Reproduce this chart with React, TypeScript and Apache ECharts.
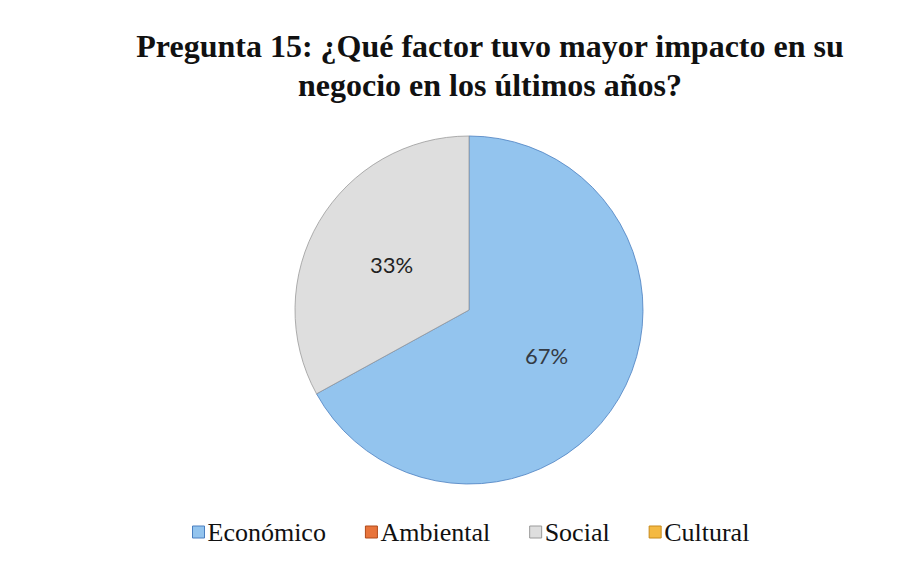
import React, { useEffect, useRef } from "react";
import * as echarts from "echarts";

const titleLines = ["Pregunta 15: ¿Qué factor tuvo mayor impacto en su", "negocio en los últimos años?"];
const categories = ["Económico", "Ambiental", "Social", "Cultural"];
const values = [67, 0, 33, 0];
const colors = ["#93C4EE", "#E8743B", "#DEDEDE", "#F4B942"];
const borderColors = ["#4A7FC0", "#B04A1A", "#9A9A9A", "#C88A1A"];

export default function App() {
  const ref = useRef<HTMLDivElement>(null);
  useEffect(() => {
    if (!ref.current) return;
    const chart = echarts.init(ref.current, null, { renderer: "svg" });
    chart.setOption({
      animation: false,
      backgroundColor: "#ffffff",
      title: {
        text: titleLines.join("\n"),
        left: 485,
        top: 21,
        textAlign: "center",
        textStyle: {
          fontFamily: "Liberation Serif",
          fontWeight: "bold",
          fontSize: 32,
          lineHeight: 39,
          color: "#111111",
        },
      },
      legend: {
        data: categories.map((name, i) => ({
          name,
          itemStyle: { color: colors[i], borderColor: borderColors[i], borderWidth: 1 },
        })),
        bottom: 12,
        left: 187,
        itemWidth: 12,
        itemHeight: 12,
        itemGap: 39,
        icon: "rect",
        textStyle: {
          fontFamily: "Liberation Serif",
          fontSize: 26,
          color: "#111111",
          padding: [0, 0, 0, -2],
        },
      },
      series: [
        {
          type: "pie",
          center: [469, 310],
          radius: 174,
          startAngle: 90,
          clockwise: true,
          avoidLabelOverlap: false,
          minAngle: 0,
          label: {
            show: true,
            position: "inside",
            fontFamily: "Lato",
            fontSize: 22,
            color: "#222222",
            formatter: (p: any) => (p.value > 0 ? p.value + "%" : ""),
          },
          labelLine: { show: false },
          emphasis: { disabled: true },
          data: categories.map((name, i) => ({
            name,
            value: values[i],
            itemStyle: {
              color: colors[i],
              borderColor: borderColors[i],
              borderWidth: values[i] > 0 ? 0.8 : 0,
            },
            label: i === 0 ? { color: "#333a44" } : {},
          })),
        },
      ],
    });
    return () => chart.dispose();
  }, []);
  return (
    <div
      ref={ref}
      style={{ position: "fixed", left: 0, top: 0, width: 918, height: 562 }}
    />
  );
}
